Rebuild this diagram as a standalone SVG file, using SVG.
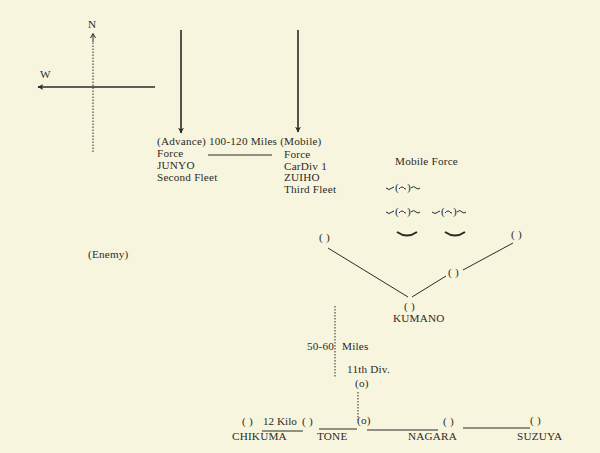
<svg xmlns="http://www.w3.org/2000/svg" width="600" height="453" viewBox="0 0 600 453">
<style>
text{font-family:"Liberation Serif","DejaVu Serif",serif;font-size:11.2px;letter-spacing:0.2px;fill:#2b2a26}
.ln{stroke:#2b2a26;stroke-width:1;fill:none}
.ar{stroke:#2b2a26;stroke-width:1.6;fill:none}
.dot{stroke:#2b2a26;stroke-width:1;stroke-dasharray:1.5 1.5;fill:none}
.sym{stroke:#2b2a26;stroke-width:1;fill:none}
</style>
<defs>
<marker id="ah" viewBox="0 0 10 10" refX="9" refY="5" markerWidth="6" markerHeight="6" orient="auto" markerUnits="userSpaceOnUse">
<path d="M0,0 L10,5 L0,10 L3,5 Z" fill="#2b2a26"/>
</marker>
<g id="ship">
<path class="sym" d="M0,0 q3,3 6,0 l2,-1"/>
<text x="9" y="3">(</text>
<path class="sym" d="M13,1 q3,-4 6,0 l1,0"/>
<text x="21" y="3">)</text>
<path class="sym" d="M25,0 q3,-3 5,0 q2,2 4,0"/>
</g>
</defs>
<rect width="600" height="453" fill="#f8f5df"/>
<g id="compass">
<path class="dot" d="M93,152 V42"/>
<path class="ln" d="M93,42 V34 M90.5,38 L93,33.5 L95.5,38"/>
<path class="ar" d="M155,87 H38" marker-end="url(#ah)"/>
<text x="88" y="28">N</text>
<text x="40" y="78">W</text>
</g>
<g id="connectors">
<path class="ar" d="M181,30 V133" marker-end="url(#ah)"/>
<path class="ar" d="M298,30 V132" marker-end="url(#ah)"/>
<path class="ln" d="M208,155 H272"/>
<path class="ln" d="M328,248 L408,297"/>
<path class="ln" d="M412,297 L446,276"/>
<path class="ln" d="M463,270 L513,243"/>
<path class="dot" d="M335,306 V378"/>
<path class="dot" d="M358,392 V420"/>
<path class="ln" d="M262,431 H303"/>
<path class="ln" d="M319,429 H357"/>
<path class="ln" d="M367,430 H438"/>
<path class="ln" d="M463,428 H530"/>
</g>
<g id="advance-force">
<text x="157" y="145">(Advance) 100-120 Miles (Mobile)</text>
<text x="157" y="157">Force</text>
<text x="157" y="169">JUNYO</text>
<text x="157" y="181">Second Fleet</text>
</g>
<g id="mobile-force-list">
<text x="284" y="158">Force</text>
<text x="284" y="170">CarDiv 1</text>
<text x="284" y="181">ZUIHO</text>
<text x="284" y="193">Third Fleet</text>
</g>
<g id="mobile-force">
<text x="395" y="165">Mobile Force</text>
<use href="#ship" x="386" y="188"/>
<use href="#ship" x="386" y="212"/>
<use href="#ship" x="432" y="212"/>
<path d="M397,232 q10,7 20,0" stroke="#2b2a26" stroke-width="2" fill="none"/>
<path d="M445,232 q10,7 20,0" stroke="#2b2a26" stroke-width="2" fill="none"/>
<text x="319" y="241">(&#160;)</text>
<text x="511" y="238">(&#160;)</text>
<text x="448" y="276">(&#160;)</text>
</g>
<g id="enemy"><text x="88" y="258">(Enemy)</text></g>
<g id="kumano">
<text x="404" y="310">(&#160;)</text>
<text x="393" y="322">KUMANO</text>
</g>
<g id="distance">
<text x="307" y="350">50-60</text>
<text x="342" y="350">Miles</text>
<text x="347" y="373">11th Div.</text>
<text x="355" y="387">(o)</text>
</g>
<g id="chikuma">
<text x="242" y="425">(&#160;)</text>
<text x="263" y="425" style="letter-spacing:0">12 Kilo</text>
<text x="302" y="425">(&#160;)</text>
<text x="232" y="440">CHIKUMA</text>
</g>
<g id="tone">
<text x="357" y="424">(o)</text>
<text x="317" y="440">TONE</text>
</g>
<g id="nagara">
<text x="443" y="425">(&#160;)</text>
<text x="408" y="440">NAGARA</text>
</g>
<g id="suzuya">
<text x="530" y="424">(&#160;)</text>
<text x="517" y="440">SUZUYA</text>
</g>
</svg>
